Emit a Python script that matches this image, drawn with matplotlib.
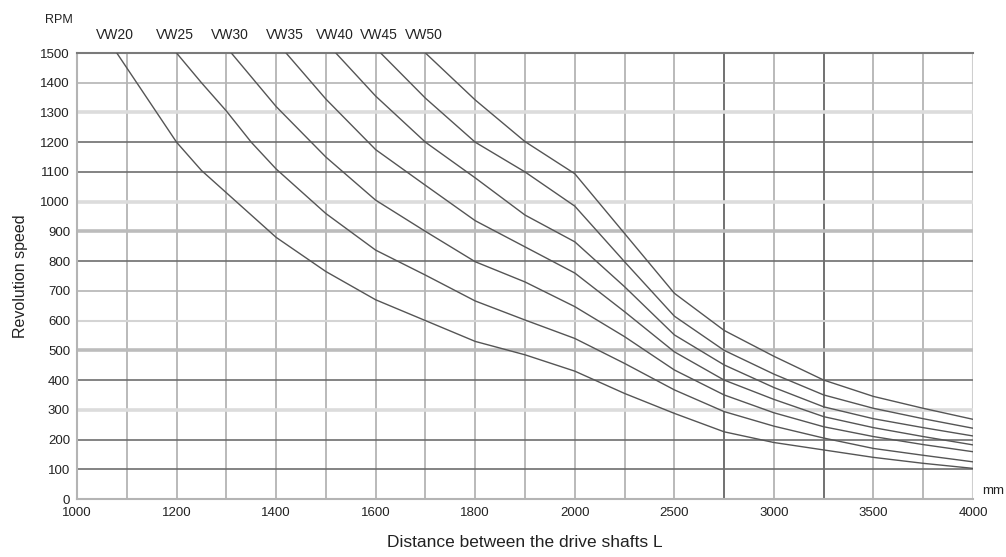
import numpy as np
import matplotlib
matplotlib.use("Agg")
import matplotlib.pyplot as plt
from matplotlib import font_manager

# ------------------------------------------------------------
# data (distance in mm, speed in RPM)
# ------------------------------------------------------------
labels = ["VW20", "VW25", "VW30", "VW35", "VW40", "VW45", "VW50"]

dist_vw20 = [1080, 1100, 1150, 1200, 1250, 1300, 1400, 1500, 1600, 1700, 1800, 1900, 2000,
             2250, 2500, 2750, 3000, 3250, 3500, 3750, 4000]
rpm_vw20 = [1500, 1450, 1325, 1200, 1105, 1030, 880, 765, 670, 600, 530, 485, 430,
            355, 288, 226, 190, 165, 140, 120, 103]

dist_vw25 = [1200, 1250, 1300, 1350, 1400, 1500, 1600, 1700, 1800, 1900, 2000,
             2250, 2500, 2750, 3000, 3250, 3500, 3750, 4000]
rpm_vw25 = [1500, 1400, 1305, 1200, 1110, 960, 837, 753, 666, 602, 540,
            456, 367, 294, 245, 205, 170, 147, 125]

dist_vw30 = [1310, 1400, 1500, 1600, 1700, 1800, 1900, 2000,
             2250, 2500, 2750, 3000, 3250, 3500, 3750, 4000]
rpm_vw30 = [1500, 1320, 1150, 1005, 900, 798, 730, 647,
            546, 434, 350, 290, 243, 210, 183, 159]

dist_vw35 = [1420, 1500, 1600, 1700, 1800, 1900, 2000,
             2250, 2500, 2750, 3000, 3250, 3500, 3750, 4000]
rpm_vw35 = [1500, 1345, 1175, 1055, 936, 848, 760,
            630, 495, 400, 335, 277, 240, 210, 182]

dist_vw40 = [1520, 1600, 1700, 1800, 1900, 2000,
             2250, 2500, 2750, 3000, 3250, 3500, 3750, 4000]
rpm_vw40 = [1500, 1355, 1200, 1080, 955, 865,
            714, 552, 451, 375, 310, 270, 240, 212]

dist_vw45 = [1610, 1700, 1800, 1900, 2000,
             2250, 2500, 2750, 3000, 3250, 3500, 3750, 4000]
rpm_vw45 = [1500, 1348, 1200, 1100, 985,
            798, 615, 500, 420, 350, 305, 270, 238]

dist_vw50 = [1700, 1800, 1900, 2000,
             2250, 2500, 2750, 3000, 3250, 3500, 3750, 4000]
rpm_vw50 = [1500, 1342, 1202, 1094,
            893, 692, 567, 480, 400, 345, 305, 268]

xtick_vals = [1000, 1200, 1400, 1600, 1800, 2000, 2500, 3000, 3500, 4000]
ytick_vals = list(range(0, 1501, 100))

# grid: every 100 mm up to 2000, then every 250 mm
xgrid = list(range(1100, 2001, 100)) + list(range(2250, 4001, 250))
xgrid_dark = [2750, 3250]

# horizontal grid line look, per rpm value
hstyle = {
    1400: ("#b4b4b4", 1.2), 1300: ("#dcdcdc", 2.6), 1200: ("#6e6e6e", 1.2),
    1100: ("#6e6e6e", 1.2), 1000: ("#dcdcdc", 2.6), 900: ("#bcbcbc", 2.6),
    800: ("#6e6e6e", 1.2), 700: ("#b4b4b4", 1.2), 600: ("#d4d4d4", 1.5),
    500: ("#bcbcbc", 2.6), 400: ("#6e6e6e", 1.2), 300: ("#dcdcdc", 2.6),
    200: ("#6e6e6e", 1.2), 100: ("#6e6e6e", 1.2),
}

# ------------------------------------------------------------
# font
# ------------------------------------------------------------
names = {f.name for f in font_manager.fontManager.ttflist}
fam = "Liberation Sans Narrow" if "Liberation Sans Narrow" in names else "Liberation Sans"
plt.rcParams["font.family"] = [fam, "DejaVu Sans"]
TXT = "#222222"


def fwd(x):
    x = np.asarray(x, dtype=float)
    return np.where(x <= 2000, (x - 1000) / 100.0, 10 + (x - 2000) / 250.0)


def inv(u):
    u = np.asarray(u, dtype=float)
    return np.where(u <= 10, 1000 + u * 100.0, 2000 + (u - 10) * 250.0)


fig = plt.figure(figsize=(10.06, 5.57), dpi=100)
ax = fig.add_axes([77 / 1006, 58 / 557, 896 / 1006, 446 / 557])
ax.set_xscale("function", functions=(fwd, inv))
ax.set_xlim(1000, 4000)
ax.set_ylim(0, 1500)

# grid
for xv in xgrid:
    if xv in xgrid_dark:
        ax.axvline(xv, color="#666666", lw=1.3, zorder=1)
    elif xv == 4000:
        ax.axvline(xv, color="#cfcfcf", lw=1.5, zorder=1)
    else:
        ax.axvline(xv, color="#b4b4b4", lw=1.3, zorder=1)
for yv, (c, w) in hstyle.items():
    ax.axhline(yv, color=c, lw=w, zorder=1)

ax.spines["right"].set_visible(False)
ax.spines["top"].set_color("#7a7a7a")
ax.spines["top"].set_linewidth(1.5)
ax.spines["bottom"].set_color("#b4b4b4")
ax.spines["bottom"].set_linewidth(1.5)
ax.spines["left"].set_color("#b4b4b4")
ax.spines["left"].set_linewidth(1.5)

series = [(dist_vw20, rpm_vw20), (dist_vw25, rpm_vw25), (dist_vw30, rpm_vw30),
          (dist_vw35, rpm_vw35), (dist_vw40, rpm_vw40), (dist_vw45, rpm_vw45),
          (dist_vw50, rpm_vw50)]
for (d, r), lab in zip(series, labels):
    ax.plot(d, r, color="#555555", lw=1.0, zorder=3)
    ax.annotate(lab, xy=(d[0], 1500), xytext=(-1, 8), textcoords="offset points",
                ha="center", va="bottom", fontsize=10, color=TXT, annotation_clip=False)

ax.set_xticks(xtick_vals)
ax.set_xticklabels([str(v) for v in xtick_vals])
ax.set_yticks(ytick_vals)
ax.set_yticklabels([str(v) for v in ytick_vals])
ax.minorticks_off()
ax.tick_params(length=0, labelsize=9.5, colors=TXT)
ax.tick_params(axis="y", pad=5)
ax.tick_params(axis="x", pad=6)

ax.set_ylabel("Revolution speed", fontsize=11.5, color=TXT, labelpad=9)
ax.set_xlabel("Distance between the drive shafts L", fontsize=12.5, color=TXT, labelpad=11)

fig.text(59 / 1006, 1 - 20 / 557, "RPM", fontsize=9, color=TXT, ha="center", va="center")
fig.text(993 / 1006, 1 - 491 / 557, "mm", fontsize=9.5, color=TXT, ha="center", va="center")

fig.savefig("out.png", dpi=100)
